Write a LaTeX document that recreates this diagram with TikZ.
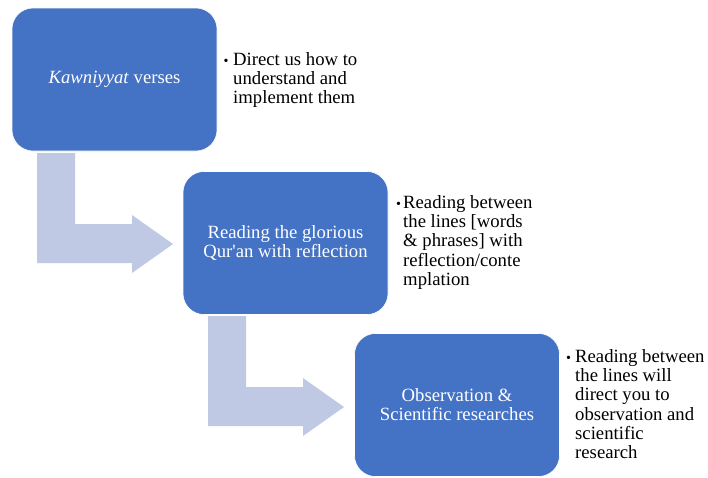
\documentclass[tikz,border=0pt]{standalone}
\usepackage{fontspec}
\setmainfont{Liberation Serif}
\usetikzlibrary{calc}
\definecolor{boxblue}{HTML}{4472C4}
\definecolor{arrowblue}{RGB}{191,201,228}
\tikzset{
  bigbox/.style={fill=boxblue, draw=white, line width=0.6pt, rounded corners=21pt,
    minimum width=205pt, minimum height=143pt, inner sep=0pt, text=white,
    align=center, font=\fontsize{18.7}{19}\selectfont},
  bullettext/.style={anchor=north west, inner sep=0pt, align=left, text=black,
    font=\fontsize{18.7}{19.3}\selectfont},
  bulletdot/.style={anchor=base, inner sep=0pt, text=black, font=\fontsize{14}{14}\selectfont},
  bentarrow/.style={fill=arrowblue, draw=none}
}
\begin{document}
\begin{tikzpicture}[x=1pt, y=-1pt]
\path[use as bounding box] (0,0) rectangle (708,477);
% bent arrows (drawn first, beneath the boxes)
\coordinate (a1) at (37,153);
\coordinate (a2) at (208,316);
\foreach \c in {a1,a2}{
  \fill[bentarrow] (\c) -- ++(38,0) -- ++(0,71) -- ++(57,0) -- ++(0,-9)
    -- ++(41,29) -- ++(-41,29) -- ++(0,-10) -- ++(-95,0) -- cycle;
}
% boxes
\node[bigbox] (b1) at (114.5,79.5) {\textit{Kawniyyat} verses};
\node[bigbox] (b2) at (285.5,243) {Reading the glorious\\Qur\textquotesingle an with reflection};
\node[bigbox] (b3) at (457,405) {Observation \&\\Scientific researches};
% bullet texts
\node[bulletdot] (d1) at (226,65) {\textbullet};
\node[bullettext] (t1) at (233,52.2) {Direct us how to\\understand and\\implement them};
\node[bulletdot] (d2) at (398.5,208) {\textbullet};
\node[bullettext] (t2) at (403,195.2) {Reading between\\the lines [words\\\& phrases] with\\reflection/conte\\mplation};
\node[bulletdot] (d3) at (568.5,362) {\textbullet};
\node[bullettext] (t3) at (575,349.2) {Reading between\\the lines will\\direct you to\\observation and\\scientific\\research};
\end{tikzpicture}
\end{document}
